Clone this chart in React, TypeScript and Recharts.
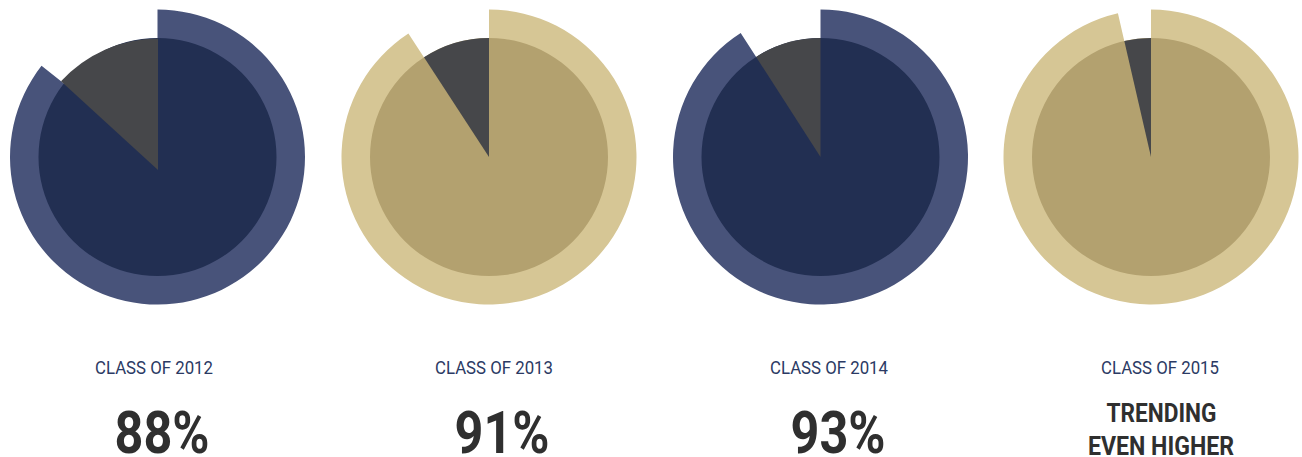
import React from 'react';
import { PieChart, Pie, Cell } from 'recharts';

// ---- data ----
const categories = ['CLASS OF 2012', 'CLASS OF 2013', 'CLASS OF 2014', 'CLASS OF 2015'];
const headlines: string[][] = [['88%'], ['91%'], ['93%'], ['TRENDING', 'EVEN HIGHER']];
const ringValues = [85.6, 90.8, 90.9, 96.4]; // share of the outer ring drawn (from 12 o'clock, clockwise)
const wedgeValues = [13.2, 9.2, 9.1, 3.6]; // dark grey wedge share (ending at 12 o'clock)

// ---- layout / style ----
const NAVY = { ring: '#48537a', inner: '#222f52' };
const GOLD = { ring: '#d6c695', inner: '#b3a16f' };
const GREY = '#46474a';
const LABEL = '#2b3a64';
const HEAD = '#2f2f2f';

const layout = [
  { cx: 157.5, cy: 157, wx: 158, wy: 170, wr: 131.5, theme: NAVY, labelX: 154, headX: 162 },
  { cx: 489, cy: 157, wx: 489, wy: 157, wr: 119, theme: GOLD, labelX: 494, headX: 502 },
  { cx: 820.5, cy: 157, wx: 820.5, wy: 157, wr: 119, theme: NAVY, labelX: 829, headX: 838 },
  { cx: 1151, cy: 157, wx: 1151, wy: 157, wr: 119, theme: GOLD, labelX: 1160, headX: 1161.5 },
];

const OUTER_R = 147.5;
const INNER_R = 119;

export default function App() {
  return (
    <div style={{ position: 'absolute', left: 0, top: 0 }}>
      <PieChart width={1302} height={457} margin={{ top: 0, right: 0, bottom: 0, left: 0 }}>
        {layout.map((l, i) => (
          <Pie
            key={`ring-${i}`}
            data={[
              { name: 'ring', value: ringValues[i] },
              { name: 'gap', value: 100 - ringValues[i] },
            ]}
            dataKey="value"
            cx={l.cx}
            cy={l.cy}
            innerRadius={INNER_R - 4}
            outerRadius={OUTER_R}
            startAngle={90}
            endAngle={-270}
            stroke="none"
            isAnimationActive={false}
          >
            <Cell fill={l.theme.ring} />
            <Cell fill="none" />
          </Pie>
        ))}
        {layout.map((l, i) => (
          <Pie
            key={`inner-${i}`}
            data={[{ name: 'inner', value: 100 }]}
            dataKey="value"
            cx={l.cx}
            cy={l.cy}
            outerRadius={INNER_R}
            startAngle={90}
            endAngle={-270}
            stroke="none"
            isAnimationActive={false}
          >
            <Cell fill={l.theme.inner} />
          </Pie>
        ))}
        {layout.map((l, i) => (
          <Pie
            key={`wedge-${i}`}
            data={[
              { name: 'rest', value: 100 - wedgeValues[i] },
              { name: 'wedge', value: wedgeValues[i] },
            ]}
            dataKey="value"
            cx={l.wx}
            cy={l.wy}
            outerRadius={l.wr}
            startAngle={90}
            endAngle={-270}
            stroke="none"
            isAnimationActive={false}
          >
            <Cell fill="none" />
            <Cell fill={GREY} />
          </Pie>
        ))}
        {layout.map((l, i) => (
          <text
            key={`cat-${i}`}
            x={l.labelX}
            y={374.3}
            textAnchor="middle"
            fontFamily="Roboto, 'Noto Sans', sans-serif"
            fontSize={19}
            fill={LABEL}
            textLength={118}
            lengthAdjust="spacingAndGlyphs"
          >
            {categories[i]}
          </text>
        ))}
        {layout.map((l, i) =>
          headlines[i].length === 1 ? (
            <text
              key={`head-${i}`}
              x={l.headX}
              y={453.3}
              textAnchor="middle"
              fontFamily="Roboto, 'Noto Sans', sans-serif"
              fontWeight={700}
              fontSize={60}
              fill={HEAD}
              textLength={95}
              lengthAdjust="spacingAndGlyphs"
            >
              {headlines[i][0]}
            </text>
          ) : (
            <g key={`head-${i}`}>
              <text
                x={l.headX}
                y={421.7}
                textAnchor="middle"
                fontFamily="Roboto, 'Noto Sans', sans-serif"
                fontWeight={700}
                fontSize={26}
                fill={HEAD}
                textLength={110}
                lengthAdjust="spacingAndGlyphs"
              >
                {headlines[i][0]}
              </text>
              <text
                x={l.headX - 0.5}
                y={455.2}
                textAnchor="middle"
                fontFamily="Roboto, 'Noto Sans', sans-serif"
                fontWeight={700}
                fontSize={26}
                fill={HEAD}
                textLength={146}
                lengthAdjust="spacingAndGlyphs"
              >
                {headlines[i][1]}
              </text>
            </g>
          )
        )}
      </PieChart>
    </div>
  );
}
